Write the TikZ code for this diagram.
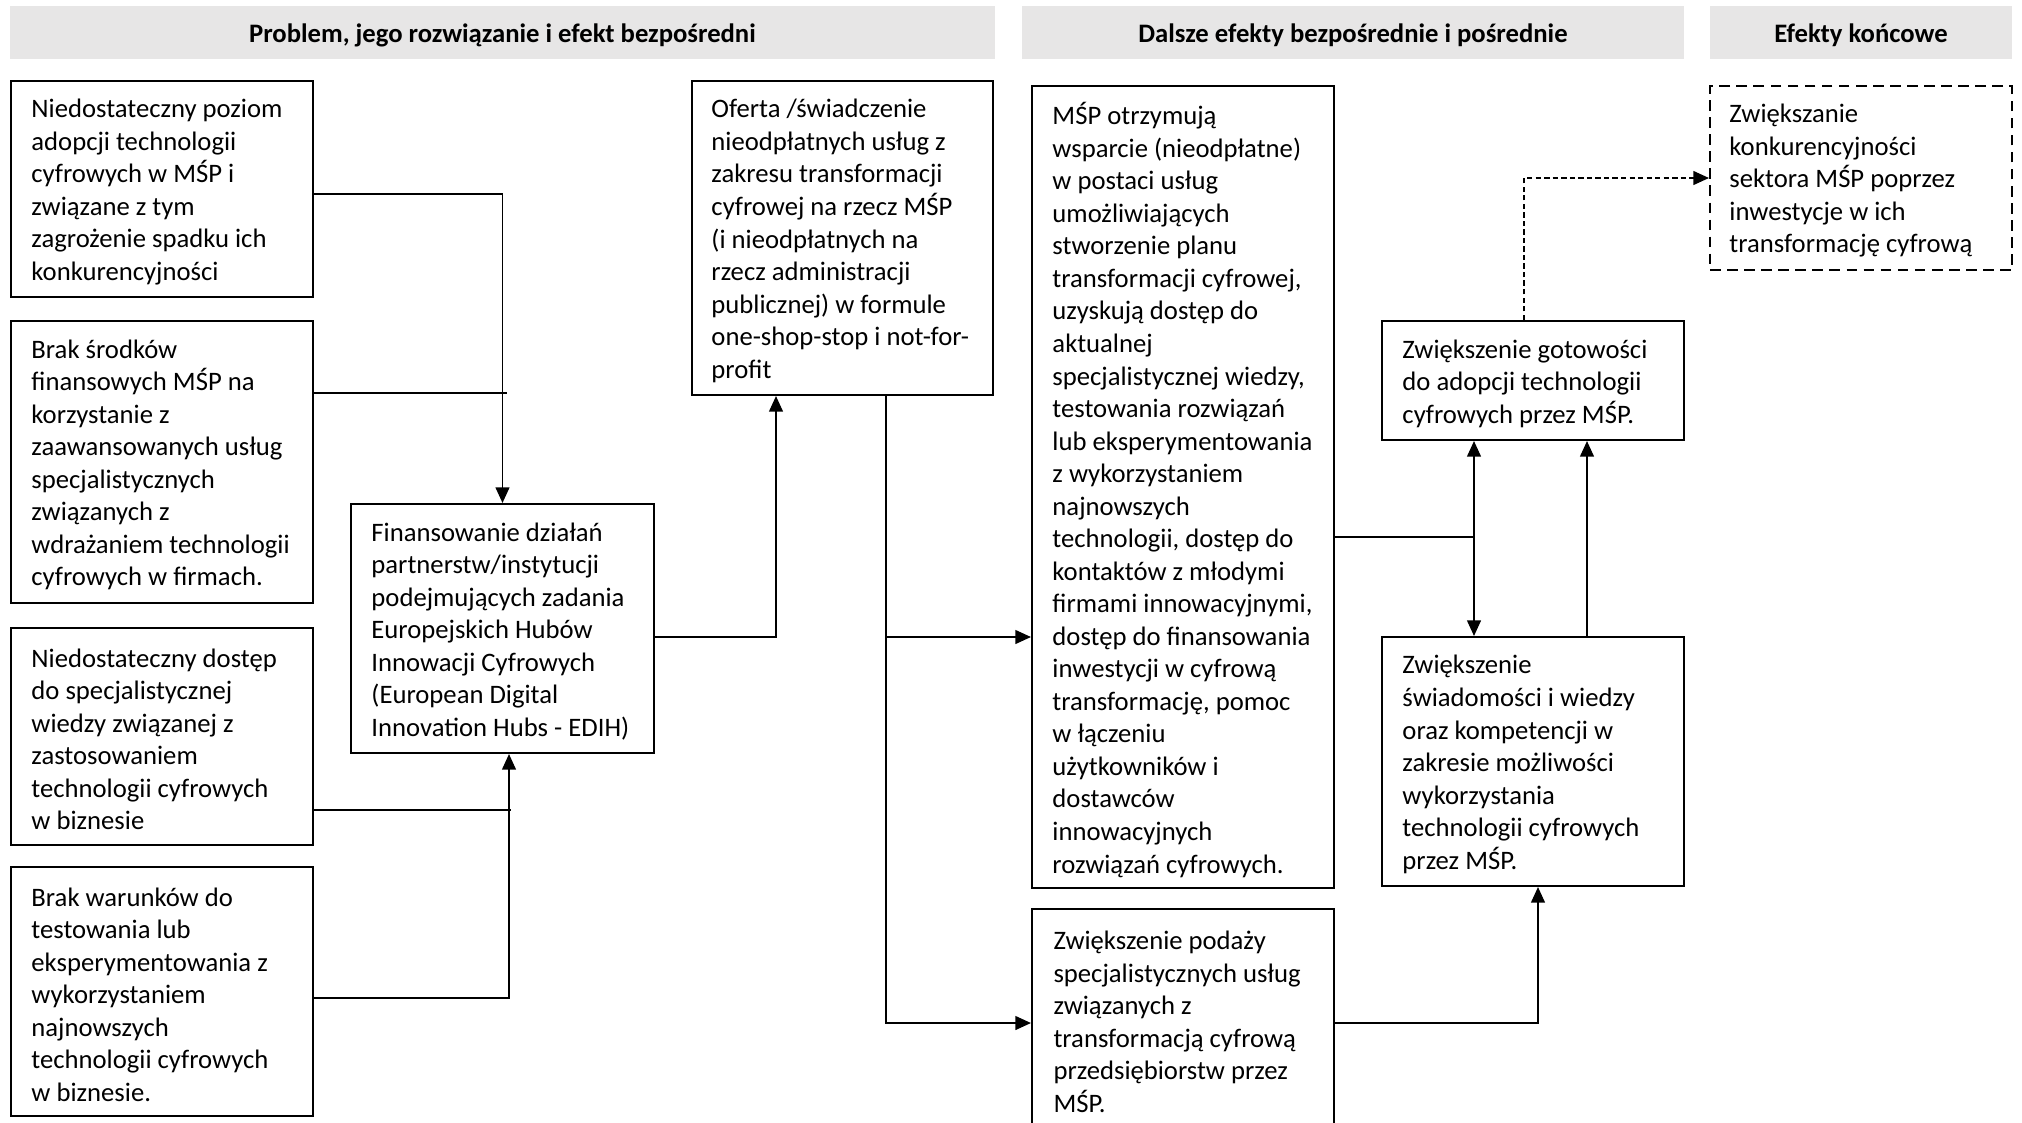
\documentclass[tikz,border=0pt]{standalone}
\usepackage{fontspec}
\setmainfont{Carlito}
\usetikzlibrary{arrows.meta,fit}
\definecolor{hdr}{RGB}{231,230,230}
\begin{document}
\begin{tikzpicture}[x=0.375pt,y=-0.375pt,
  box/.style={draw=black,line width=0.8pt,inner sep=0pt},
  dbox/.style={box,dash pattern=on 4pt off 2.4pt},
  txt/.style={anchor=west,align=left,inner sep=0pt,font=\fontsize{10}{12.2}\selectfont},
  hdrbox/.style={fill=hdr,inner sep=0pt},
  hdrtxt/.style={inner sep=0pt,font=\bfseries\fontsize{10}{12.2}\selectfont},
  conn/.style={line width=0.45pt},
  arr/.style={conn,-{Triangle[length=5.8pt,width=5.2pt]}},
  darr/.style={conn,{Triangle[length=5.8pt,width=5.2pt]}-{Triangle[length=5.8pt,width=5.2pt]}},
  dsh/.style={arr,dash pattern=on 2pt off 1.2pt}]
\path[use as bounding box,fill=white] (0,0) rectangle (2022,1122);
\clip (0,0) rectangle (2022,1122);

% headers
\node[hdrbox,fit={(10,6)(995,59)}] (h1) {};
\node[hdrtxt] (h1t) at ([yshift=-1.1pt]h1.center) {Problem, jego rozwiązanie i efekt bezpośredni};
\node[hdrbox,fit={(1022,6)(1684,59)}] (h2) {};
\node[hdrtxt] (h2t) at ([yshift=-1.1pt]h2.center) {Dalsze efekty bezpośrednie i pośrednie};
\node[hdrbox,fit={(1710,6)(2012,59)}] (h3) {};
\node[hdrtxt] (h3t) at ([yshift=-1.1pt]h3.center) {Efekty końcowe};

% boxes
\node[box,fit={(11,81)(313,297)}] (A) {};
\node[txt] (At) at ([xshift=7.875pt,yshift=-1.1pt]A.west) {Niedostateczny poziom\\adopcji technologii\\cyfrowych w MŚP i\\związane z tym\\zagrożenie spadku ich\\konkurencyjności};

\node[box,fit={(11,321)(313,603)}] (B) {};
\node[txt] (Bt) at ([xshift=7.875pt,yshift=-1.1pt]B.west) {Brak środków\\finansowych MŚP na\\korzystanie z\\zaawansowanych usług\\specjalistycznych\\związanych z\\wdrażaniem technologii\\cyfrowych w firmach.};

\node[box,fit={(11,628)(313,845)}] (C) {};
\node[txt] (Ct) at ([xshift=7.875pt,yshift=-1.1pt]C.west) {Niedostateczny dostęp\\do specjalistycznej\\wiedzy związanej z\\zastosowaniem\\technologii cyfrowych\\w biznesie};

\node[box,fit={(11,867)(313,1116)}] (D) {};
\node[txt] (Dt) at ([xshift=7.875pt,yshift=-1.1pt]D.west) {Brak warunków do\\testowania lub\\eksperymentowania z\\wykorzystaniem\\najnowszych\\technologii cyfrowych\\w biznesie.};

\node[box,fit={(351,504)(654,753)}] (E) {};
\node[txt] (Et) at ([xshift=7.875pt,yshift=-1.1pt]E.west) {Finansowanie działań\\partnerstw/instytucji\\podejmujących zadania\\Europejskich Hubów\\Innowacji Cyfrowych\\(European Digital\\Innovation Hubs - EDIH)};

\node[box,fit={(692,81)(993,395)}] (F) {};
\node[txt] (Ft) at ([xshift=7.5pt,yshift=-1.1pt]F.west) {Oferta /świadczenie\\nieodpłatnych usług z\\zakresu transformacji\\cyfrowej na rzecz MŚP\\(i nieodpłatnych na\\rzecz administracji\\publicznej) w formule\\one-shop-stop i not-for-\\profit};

\node[box,fit={(1032,86)(1334,888)}] (G) {};
\node[txt] (Gt) at ([xshift=7.875pt,yshift=-1.1pt]G.west) {MŚP otrzymują\\wsparcie (nieodpłatne)\\w postaci usług\\umożliwiających\\stworzenie planu\\transformacji cyfrowej,\\uzyskują dostęp do\\aktualnej\\specjalistycznej wiedzy,\\testowania rozwiązań\\lub eksperymentowania\\z wykorzystaniem\\najnowszych\\technologii, dostęp do\\kontaktów z młodymi\\firmami innowacyjnymi,\\dostęp do finansowania\\inwestycji w cyfrową\\transformację, pomoc\\w łączeniu\\użytkowników i\\dostawców\\innowacyjnych\\rozwiązań cyfrowych.};

\node[box,fit={(1032,909)(1334,1150)}] (H) {};
\node[txt] (Ht) at (1053,1022) {Zwiększenie podaży\\specjalistycznych usług\\związanych z\\transformacją cyfrową\\przedsiębiorstw przez\\MŚP.};

\node[box,fit={(1382,321)(1684,440)}] (I) {};
\node[txt] (It) at ([xshift=7.875pt,yshift=-1.1pt]I.west) {Zwiększenie gotowości\\do adopcji technologii\\cyfrowych przez MŚP.};

\node[box,fit={(1382,637)(1684,886)}] (J) {};
\node[txt] (Jt) at ([xshift=7.875pt,yshift=-1.1pt]J.west) {Zwiększenie\\świadomości i wiedzy\\oraz kompetencji w\\zakresie możliwości\\wykorzystania\\technologii cyfrowych\\przez MŚP.};

\node[dbox,fit={(1710,86)(2012,270)}] (K) {};
\node[txt] (Kt) at ([xshift=7.5pt,yshift=-1.1pt]K.west) {Zwiększanie\\konkurencyjności\\sektora MŚP poprzez\\inwestycje w ich\\transformację cyfrową};

% junction coordinates
\coordinate (jA) at (502.5,194);
\coordinate (jB) at (507,393);
\coordinate (jC) at (511,810);
\coordinate (jD) at (509,998);
\coordinate (jE) at (776,637);
\coordinate (jF) at (886,637);
\coordinate (jF2) at (886,1023);
\coordinate (jG) at (1474,537);
\coordinate (jJ) at (1587,600);
\coordinate (jH) at (1538,1023);
\coordinate (jI) at (1524,178);

% connectors
\draw[arr] (A.east |- jA) -- (jA) -- (jA |- E.north);
\draw[conn] (B.east |- jB) -- (jB);
\draw[conn] (C.east |- jC) -- (jC);
\draw[arr] (D.east |- jD) -- (jD) -- (jD |- E.south);
\draw[arr] (E.east |- jE) -- (jE) -- (jE |- F.south);
\draw[arr] (jF |- F.south) -- (jF2) -- (jF2 -| H.west);
\draw[arr] (jF) -- (jF -| G.west);
\draw[conn] (G.east |- jG) -- (jG);
\draw[darr] (jG |- I.south) -- (jG |- J.north);
\draw[arr] (jJ |- J.north) -- (jJ |- I.south);
\draw[arr] (H.east |- jH) -- (jH) -- (jH |- J.south);
\draw[dsh] (jI |- I.north) -- (jI) -- (jI -| K.west);
\end{tikzpicture}
\end{document}
